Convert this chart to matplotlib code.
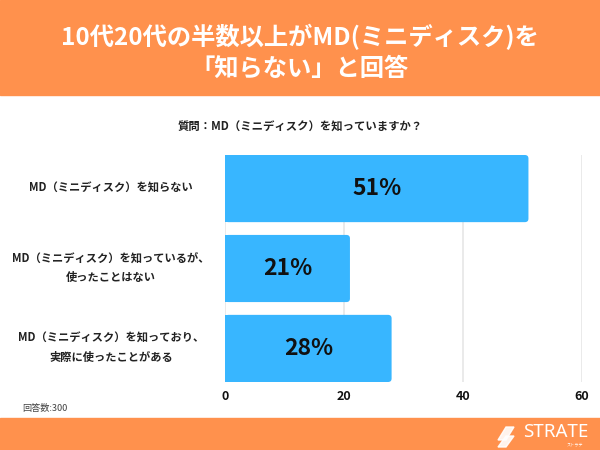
import matplotlib
matplotlib.use('Agg')
import matplotlib.pyplot as plt
from matplotlib.patches import Rectangle, FancyBboxPatch, Polygon

plt.rcParams['font.family'] = ['Noto Sans CJK JP', 'DejaVu Sans']

# データ
categories = ['MD（ミニディスク）を知らない',
              'MD（ミニディスク）を知っているが、\n使ったことはない',
              'MD（ミニディスク）を知っており、\n実際に使ったことがある']
values = [51, 21, 28]
xticks = [0, 20, 40, 60]

title = '10代20代の半数以上がMD(ミニディスク)を\n「知らない」と回答'
question = '質問：MD（ミニディスク）を知っていますか？'
note = '回答数:300'

orange = '#FF914D'
blue = '#38B6FF'

fig = plt.figure(figsize=(6, 4.5), dpi=100)

# ヘッダーとフッター
fig.patches.append(Rectangle((0, 1 - 95/450), 1, 95/450, transform=fig.transFigure,
                             color=orange, zorder=0))
fig.patches.append(Rectangle((0, 0), 1, 32/450, transform=fig.transFigure,
                             color=orange, zorder=0))
fig.text(0.5, 1 - 52/450, title, ha='center', va='center', color='white',
         fontsize=17.5, fontweight='bold', linespacing=1.35)
fig.text(0.5, 1 - 127/450, question, ha='center', va='center', color='#222222',
         fontsize=8.2, fontweight='bold')
fig.text(22/600, 1 - 408/450, note, ha='left', va='center', color='#444444',
         fontsize=6.6)

# ロゴ（簡易）
for pts in ([(498, 440), (506, 427), (514, 427), (506, 440)],
            [(498, 447), (506, 436), (514, 436), (506, 447)]):
    fig.patches.append(Polygon([(x/600, 1 - y/450) for x, y in pts], closed=True,
                               transform=fig.transFigure, color='white', alpha=0.9))
fig.text(588/600, 1 - 432/450, 'STRATE', ha='right', va='center', color='white',
         fontsize=13.5, family=['Noto Sans', 'DejaVu Sans'])
fig.text(575/600, 1 - 444/450, 'ストラテ', ha='center', va='center', color='white',
         fontsize=3)

ax = fig.add_axes([225/600, 1 - 382/450, 357/600, 227/450])
ypos = range(len(values))
h = 0.84
for i, v in enumerate(values):
    ax.add_patch(FancyBboxPatch((0, i - h/2), v, h,
                                boxstyle='round,pad=0,rounding_size=0.6',
                                mutation_aspect=0.073, color=blue, zorder=2, lw=0))
    ax.add_patch(Rectangle((0, i - h/2), v / 2, h, color=blue, zorder=2, lw=0))
ax.set_ylim(2.42, -0.42)
ax.set_xlim(0, 60)
ax.set_xticks(xticks)
ax.set_xticklabels([str(t) for t in xticks], fontsize=9, fontweight='bold',
                   color='#111111')
ax.tick_params(axis='x', length=0, pad=6)
ax.set_yticks([])
for s in ax.spines.values():
    s.set_visible(False)
ax.grid(axis='x', color='#e6e6e6', linewidth=1.2, zorder=0)

for i, v in enumerate(values):
    ax.text(v / 2, i, f'{v}%', ha='center', va='center', fontsize=16.5,
            fontweight='bold', color='#111111', zorder=3)

# カテゴリラベル
for i, c in enumerate(categories):
    y = 1 - (188 + 80 * i) / 450
    fig.text(111/600, y, c, ha='center', va='center', fontsize=8.1,
             fontweight='bold', color='#222222', linespacing=1.6)

fig.savefig('out.png', dpi=100)
